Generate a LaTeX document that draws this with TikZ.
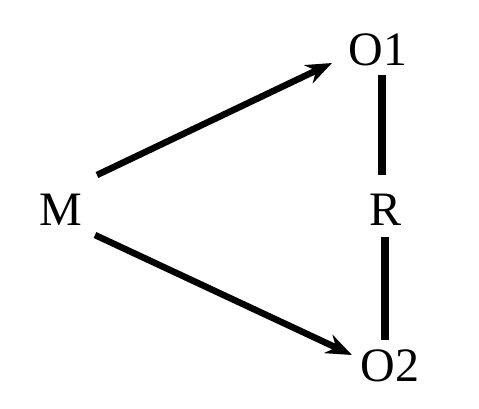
\documentclass[tikz,border=0pt]{standalone}
\usepackage{fontspec}
\setmainfont{Liberation Serif}
\usetikzlibrary{arrows.meta,calc}
\begin{document}
\begin{tikzpicture}[x=1pt,y=-1pt,
  lbl/.style={font=\fontsize{48}{52}\selectfont, inner sep=4pt, anchor=center},
  arr/.style={line width=6.5pt, -{Stealth[length=26pt,width=20pt]}},
  link/.style={line width=7.5pt}]
\useasboundingbox (0,0) rectangle (479,408);
\node[lbl] (M) at (61,210) {M};
\node[lbl] (O1) at (378,50) {O1};
\node[lbl] (R) at (386,210) {R};
\node[lbl] (O2) at (390,366) {O2};
\draw[arr] ($(M)+(36,-35)$) -- ($(O1)+(-46,13)$);
\draw[arr] ($(M)+(34,25)$) -- ($(O2)+(-38,-11)$);
\draw[link] ($(R)+(-4,-135)$) -- ($(R)+(-4,-35)$);
\draw[link] ($(R)+(-1,27)$) -- ($(R)+(-1,130)$);
\end{tikzpicture}
\end{document}
